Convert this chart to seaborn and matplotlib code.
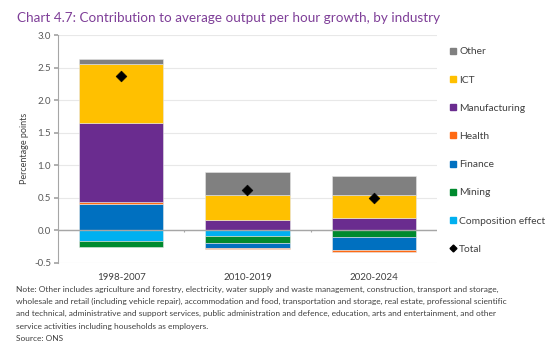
import numpy as np
import pandas as pd
import matplotlib
matplotlib.use("Agg")
import matplotlib.pyplot as plt
import seaborn as sns
from matplotlib.lines import Line2D

sns.set_theme(style="white")
plt.rcParams["font.family"] = ["Lato", "DejaVu Sans"]

# Dados
periodos = ["1998-2007", "2010-2019", "2020-2024"]
composicao = [-0.16, -0.09, 0.0]
mineracao = [-0.10, -0.10, -0.11]
financas = [0.41, -0.08, -0.20]
saude = [0.03, -0.02, -0.02]
manufatura = [1.20, 0.15, 0.185]
ict = [0.92, 0.39, 0.355]
outros = [0.07, 0.36, 0.29]
total = [2.37, 0.61, 0.49]

series = [
    ("Composition effect", composicao, "#00B0F0"),
    ("Mining", mineracao, "#008A2E"),
    ("Finance", financas, "#0070C0"),
    ("Health", saude, "#FF6A13"),
    ("Manufacturing", manufatura, "#6A2C8F"),
    ("ICT", ict, "#FFC000"),
    ("Other", outros, "#808080"),
]

fig = plt.figure(figsize=(5.54, 3.53), dpi=100)
ax = fig.add_axes([0.1047, 0.2558, 0.684, 0.645])

# Empilhamento separado para positivos e negativos (estilo Excel)
base_pos = np.zeros(len(periodos))
base_neg = np.zeros(len(periodos))
for nome, vals, cor in series:
    vals = np.array(vals)
    bottom = np.where(vals >= 0, base_pos, base_neg)
    df = pd.DataFrame({"periodo": periodos, "valor": vals})
    sns.barplot(data=df, x="periodo", y="valor", bottom=bottom, color=cor,
                saturation=1, width=0.667, edgecolor="#E6E6E6", linewidth=0.4,
                ax=ax, errorbar=None)
    base_pos = base_pos + np.where(vals >= 0, vals, 0)
    base_neg = base_neg + np.where(vals < 0, vals, 0)

df_tot = pd.DataFrame({"periodo": periodos, "total": total})
sns.scatterplot(data=df_tot, x="periodo", y="total", marker="D", s=30,
                color="black", edgecolor="black", zorder=5, ax=ax)

ax.set_ylim(-0.5, 3.0)
ax.set_xlim(-0.5, 2.5)
ax.set_yticks(np.arange(-0.5, 3.01, 0.5))
ax.set_yticklabels([f"{v:.1f}" for v in np.arange(-0.5, 3.01, 0.5)])
ax.yaxis.grid(True, color="#E8E8E8", linewidth=0.8)
ax.set_axisbelow(True)
ax.axhline(0, color="#A6A6A6", linewidth=1.0, zorder=1)
ax.vlines([0.5, 1.5], -0.035, 0, color="#A6A6A6", linewidth=0.8)

for s in ["top", "right", "bottom"]:
    ax.spines[s].set_visible(False)
ax.spines["left"].set_color("#A6A6A6")
ax.spines["left"].set_linewidth(0.8)
ax.tick_params(axis="y", left=True, length=3, color="#A6A6A6",
               labelsize=7, labelcolor="#595959", pad=2)
ax.tick_params(axis="x", bottom=False, labelsize=7, labelcolor="#404040", pad=1.5)
ax.set_xlabel("")
ax.set_ylabel("Percentage points", fontsize=6.5, color="#404040", labelpad=4)

# Legenda
handles = []
for nome, vals, cor in series[::-1]:
    handles.append(Line2D([], [], marker="s", linestyle="none", color=cor,
                          markersize=5, label=nome))
handles.append(Line2D([], [], marker="D", linestyle="none", color="black",
                      markersize=3.5, label="Total"))
fig.legend(handles=handles, loc="upper left", bbox_to_anchor=(0.805, 0.878),
           frameon=False, fontsize=7.4, labelspacing=1.85, handlelength=0.6,
           handletextpad=0.3, labelcolor="#404040", borderaxespad=0)

fig.text(0.03, 0.965, "Chart 4.7: Contribution to average output per hour growth, by industry",
         fontsize=9.7, color="#7F3F98", va="top")

nota = ("Note: Other includes agriculture and forestry, electricity, water supply and waste management, construction, transport and storage,\n"
        "wholesale and retail (including vehicle repair), accommodation and food, transportation and storage, real estate, professional scientific\n"
        "and technical, administrative and support services, public administration and defence, education, arts and entertainment, and other\n"
        "service activities including households as employers.\n"
        "Source: ONS")
fig.text(0.029, 0.19, nota, fontsize=6.05, color="#404040", va="top", linespacing=1.85)

fig.savefig("out.png", dpi=100)
